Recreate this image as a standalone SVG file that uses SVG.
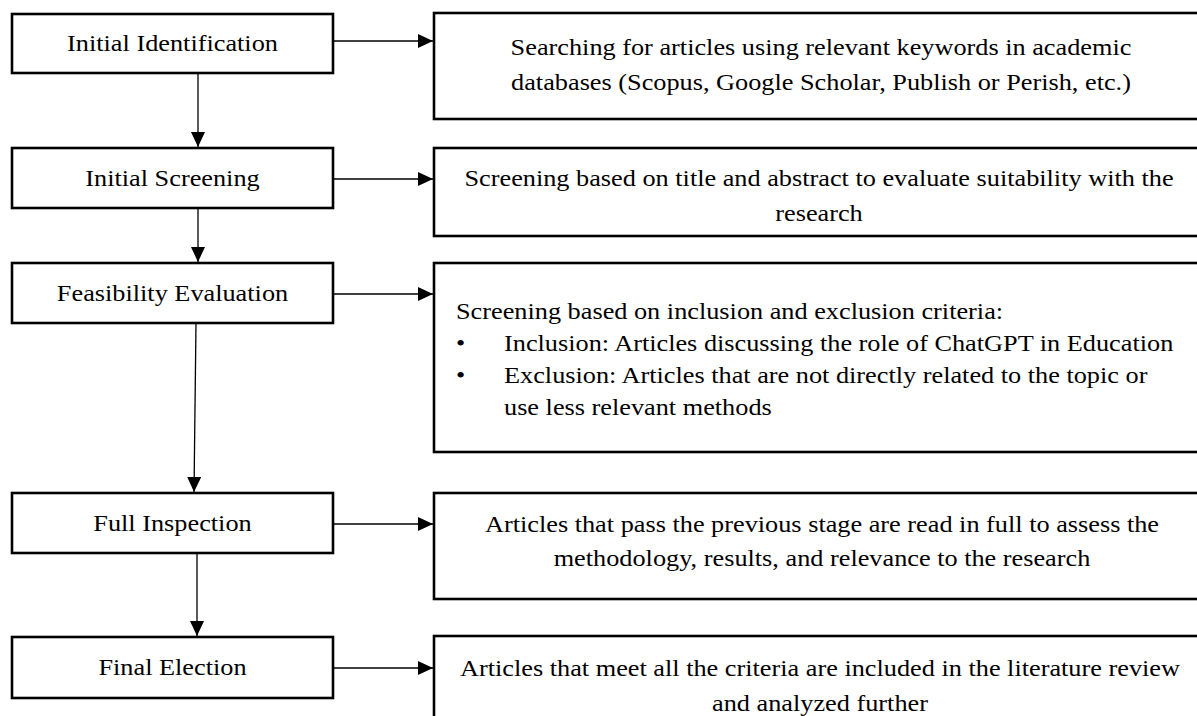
<svg xmlns="http://www.w3.org/2000/svg" width="1197" height="716" viewBox="0 0 1197 716">
<style>
.box{fill:#fff;stroke:#000;stroke-width:2.6}
.t{font-family:"Liberation Serif","Times New Roman",serif;font-size:24px;fill:#000}
.m{text-anchor:middle}
.c{fill:none;stroke:#000;stroke-width:1.3}
</style>
<defs>
<marker id="ah" markerUnits="userSpaceOnUse" markerWidth="16" markerHeight="14" refX="15" refY="7" orient="auto">
<path d="M0,0 L15,7 L0,14 Z" fill="#000"/>
</marker>
</defs>
<rect width="1197" height="716" fill="#fff"/>
<g id="n1">
<rect class="box" x="12" y="14" width="321" height="59"/>
<text class="t m" transform="translate(172.5 51) scale(1.095 1)">Initial Identification</text>
</g>
<g id="r1">
<rect class="box" x="434" y="13" width="800" height="106"/>
<text class="t m" transform="translate(821 55) scale(1.095 1)">Searching for articles using relevant keywords in academic</text>
<text class="t m" transform="translate(821 90) scale(1.095 1)">databases (Scopus, Google Scholar, Publish or Perish, etc.)</text>
</g>
<g id="n2">
<rect class="box" x="12" y="148" width="321" height="60"/>
<text class="t m" transform="translate(172.5 186) scale(1.095 1)">Initial Screening</text>
</g>
<g id="r2">
<rect class="box" x="434" y="148" width="800" height="88"/>
<text class="t m" transform="translate(819 186) scale(1.095 1)">Screening based on title and abstract to evaluate suitability with the</text>
<text class="t m" transform="translate(819 221) scale(1.095 1)">research</text>
</g>
<g id="n3">
<rect class="box" x="12" y="263" width="321" height="60"/>
<text class="t m" transform="translate(172.5 301) scale(1.095 1)">Feasibility Evaluation</text>
</g>
<g id="r3">
<rect class="box" x="434" y="263" width="800" height="189"/>
<text class="t" transform="translate(456 319) scale(1.095 1)">Screening based on inclusion and exclusion criteria:</text>
<text class="t" transform="translate(456 351) scale(1.095 1)">•</text>
<text class="t" transform="translate(504 351) scale(1.095 1)">Inclusion: Articles discussing the role of ChatGPT in Education</text>
<text class="t" transform="translate(456 383) scale(1.095 1)">•</text>
<text class="t" transform="translate(504 383) scale(1.095 1)">Exclusion: Articles that are not directly related to the topic or</text>
<text class="t" transform="translate(504 415) scale(1.095 1)">use less relevant methods</text>
</g>
<g id="n4">
<rect class="box" x="12" y="493" width="321" height="60"/>
<text class="t m" transform="translate(172.5 531) scale(1.095 1)">Full Inspection</text>
</g>
<g id="r4">
<rect class="box" x="434" y="493" width="800" height="106"/>
<text class="t m" transform="translate(822 532) scale(1.095 1)">Articles that pass the previous stage are read in full to assess the</text>
<text class="t m" transform="translate(822 566) scale(1.095 1)">methodology, results, and relevance to the research</text>
</g>
<g id="n5">
<rect class="box" x="12" y="637" width="321" height="61"/>
<text class="t m" transform="translate(172.5 675) scale(1.095 1)">Final Election</text>
</g>
<g id="r5">
<rect class="box" x="434" y="636" width="800" height="120"/>
<text class="t m" transform="translate(820 676) scale(1.095 1)">Articles that meet all the criteria are included in the literature review</text>
<text class="t m" transform="translate(820 711) scale(1.095 1)">and analyzed further</text>
</g>
<g id="connectors">
<line class="c" x1="333" y1="41" x2="433" y2="41" marker-end="url(#ah)"/>
<line class="c" x1="333" y1="179" x2="433" y2="179" marker-end="url(#ah)"/>
<line class="c" x1="333" y1="294" x2="433" y2="294" marker-end="url(#ah)"/>
<line class="c" x1="333" y1="524" x2="433" y2="524" marker-end="url(#ah)"/>
<line class="c" x1="333" y1="668" x2="433" y2="668" marker-end="url(#ah)"/>
<line class="c" x1="198" y1="73" x2="198" y2="147" marker-end="url(#ah)"/>
<line class="c" x1="198" y1="208" x2="198" y2="262" marker-end="url(#ah)"/>
<line class="c" x1="196" y1="323" x2="194" y2="492" marker-end="url(#ah)"/>
<line class="c" x1="197" y1="553" x2="197" y2="636" marker-end="url(#ah)"/>
</g>
</svg>
